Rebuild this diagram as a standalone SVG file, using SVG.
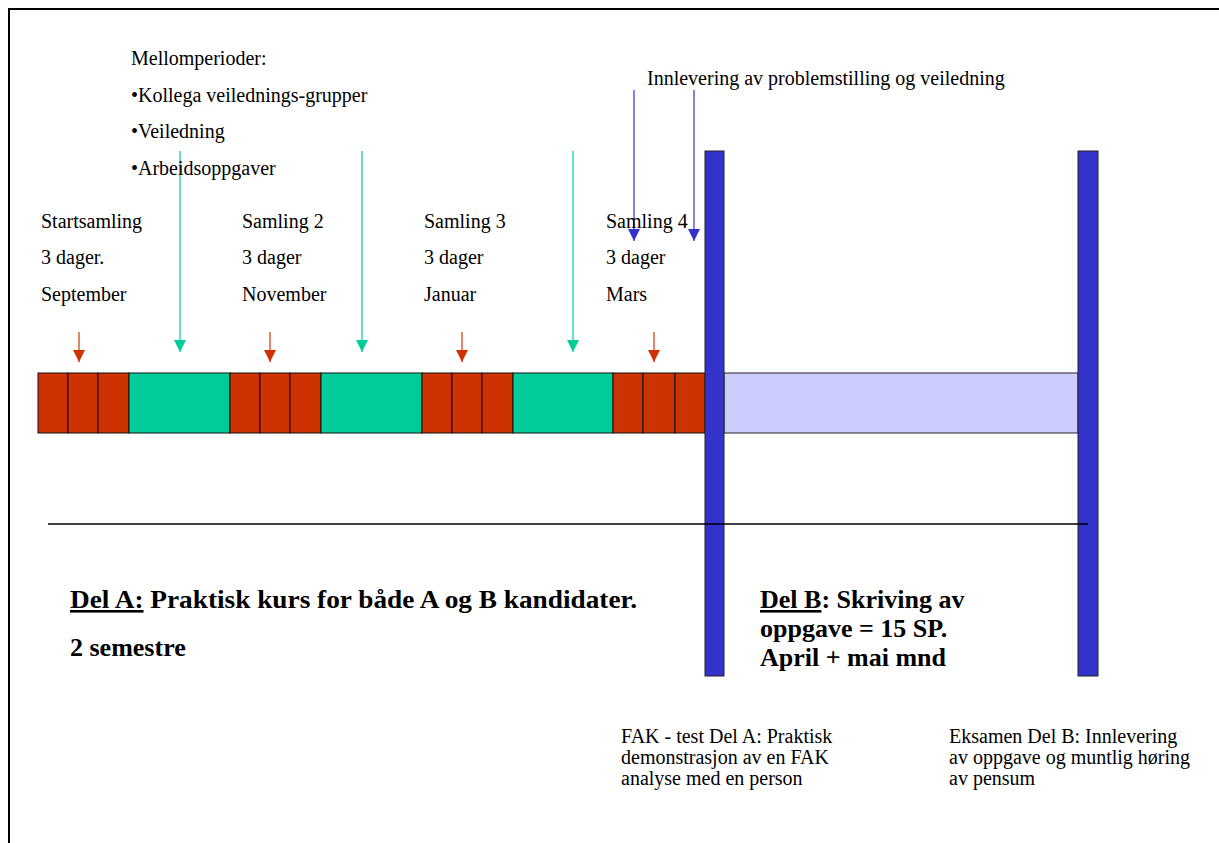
<svg xmlns="http://www.w3.org/2000/svg" width="1219" height="843" viewBox="0 0 1219 843">
  <style>
    text { font-family: "Liberation Serif", "Times New Roman", serif; fill: #000; }
    .t20 { font-size: 20px; }
    .lbl { font-size: 20px; }
    .big { font-size: 26px; font-weight: bold; }
    .day { fill: #CC3300; stroke: #111; stroke-width: 1; }
    .mid { fill: #00CC99; stroke: #111; stroke-width: 1; }
    .self { fill: #CCCCFF; stroke: #222; stroke-width: 1; }
    .post { fill: #3333CC; stroke: #222; stroke-width: 1; }
    .red { stroke: #CC3300; stroke-width: 1.2; fill: none; }
    .green { stroke: #00CC99; stroke-width: 1.2; fill: none; }
    .blue { stroke: #3333CC; stroke-width: 1.2; fill: none; }
  </style>
  <defs>
    <!-- downward-pointing heads, tip at the line end -->
    <marker id="hRed" viewBox="0 0 12 12" refX="6" refY="12" markerWidth="12" markerHeight="12" markerUnits="userSpaceOnUse">
      <path d="M0,0 L12,0 L6,12 Z" fill="#CC3300"/>
    </marker>
    <marker id="hGreen" viewBox="0 0 12 12" refX="6" refY="12" markerWidth="12" markerHeight="12" markerUnits="userSpaceOnUse">
      <path d="M0,0 L12,0 L6,12 Z" fill="#00CC99"/>
    </marker>
    <marker id="hBlue" viewBox="0 0 12 12" refX="6" refY="12" markerWidth="12" markerHeight="12" markerUnits="userSpaceOnUse">
      <path d="M0,0 L12,0 L6,12 Z" fill="#3333CC"/>
    </marker>
  </defs>

  <rect width="1219" height="843" fill="#fff"/>
  <!-- frame -->
  <path d="M9,843 V9 H1219" fill="none" stroke="#000" stroke-width="2"/>

  <!-- timeline strip -->
  <g id="strip">
    <rect class="day" x="38" y="373" width="30" height="60"/>
    <rect class="day" x="68" y="373" width="30" height="60"/>
    <rect class="day" x="98" y="373" width="31" height="60"/>
    <rect class="mid" x="129" y="373" width="101" height="60"/>
    <rect class="day" x="230" y="373" width="30" height="60"/>
    <rect class="day" x="260" y="373" width="30" height="60"/>
    <rect class="day" x="290" y="373" width="31" height="60"/>
    <rect class="mid" x="321" y="373" width="101" height="60"/>
    <rect class="day" x="422" y="373" width="30" height="60"/>
    <rect class="day" x="452" y="373" width="30" height="60"/>
    <rect class="day" x="482" y="373" width="31" height="60"/>
    <rect class="mid" x="513" y="373" width="100" height="60"/>
    <rect class="day" x="613" y="373" width="30" height="60"/>
    <rect class="day" x="643" y="373" width="32" height="60"/>
    <rect class="day" x="675" y="373" width="30" height="60"/>
    <rect class="self" x="724" y="373" width="354" height="60"/>
  </g>

  <g id="post-a"><rect class="post" x="705" y="151" width="19" height="525"/></g>
  <g id="post-b"><rect class="post" x="1078" y="151" width="20" height="525"/></g>

  <g id="divider"><line x1="48" y1="524" x2="1088" y2="524" stroke="#000" stroke-width="1.5"/></g>

  <!-- connectors -->
  <g id="connectors">
    <line class="red" x1="79" y1="332" x2="79" y2="362" marker-end="url(#hRed)"/>
    <line class="red" x1="270" y1="332" x2="270" y2="362" marker-end="url(#hRed)"/>
    <line class="red" x1="462" y1="332" x2="462" y2="362" marker-end="url(#hRed)"/>
    <line class="red" x1="654" y1="332" x2="654" y2="362" marker-end="url(#hRed)"/>
    <line class="green" x1="180" y1="151" x2="180" y2="352" marker-end="url(#hGreen)"/>
    <line class="green" x1="362" y1="151" x2="362" y2="352" marker-end="url(#hGreen)"/>
    <line class="green" x1="573" y1="151" x2="573" y2="352" marker-end="url(#hGreen)"/>
    <line class="blue" x1="634" y1="90" x2="634" y2="241" marker-end="url(#hBlue)"/>
    <line class="blue" x1="694" y1="90" x2="694" y2="241" marker-end="url(#hBlue)"/>
  </g>

  <g id="mellomperioder">
    <text class="t20" x="131" y="65">Mellomperioder:</text>
    <text class="t20" x="131" y="102">•Kollega veilednings-grupper</text>
    <text class="t20" x="131" y="138">•Veiledning</text>
    <text class="t20" x="131" y="175">•Arbeidsoppgaver</text>
  </g>

  <g id="innlevering">
    <text class="t20" x="647" y="85">Innlevering av problemstilling og veiledning</text>
  </g>

  <g id="samling-1">
    <text class="t20" x="41" y="228">Startsamling</text>
    <text class="t20" x="41" y="264">3 dager.</text>
    <text class="t20" x="41" y="301">September</text>
  </g>
  <g id="samling-2">
    <text class="t20" x="242" y="228">Samling 2</text>
    <text class="t20" x="242" y="264">3 dager</text>
    <text class="t20" x="242" y="301">November</text>
  </g>
  <g id="samling-3">
    <text class="t20" x="424" y="228">Samling 3</text>
    <text class="t20" x="424" y="264">3 dager</text>
    <text class="t20" x="424" y="301">Januar</text>
  </g>
  <g id="samling-4">
    <text class="t20" x="606" y="228">Samling 4</text>
    <text class="t20" x="606" y="264">3 dager</text>
    <text class="t20" x="606" y="301">Mars</text>
  </g>

  <g id="del-a">
    <text class="big" x="70" y="608" textLength="567" lengthAdjust="spacingAndGlyphs"><tspan text-decoration="underline">Del A:</tspan> Praktisk kurs for både A og B kandidater.</text>
    <text class="big" x="70" y="656">2 semestre</text>
  </g>

  <g id="del-b">
    <text class="big" x="760" y="608"><tspan text-decoration="underline">Del B</tspan>: Skriving av</text>
    <text class="big" x="760" y="637">oppgave = 15 SP.</text>
    <text class="big" x="760" y="666">April + mai mnd</text>
  </g>

  <g id="fak-test">
    <text class="lbl" x="621" y="743">FAK - test Del A: Praktisk</text>
    <text class="lbl" x="621" y="764">demonstrasjon av en FAK</text>
    <text class="lbl" x="621" y="785">analyse med en person</text>
  </g>

  <g id="eksamen">
    <text class="lbl" x="949" y="743">Eksamen Del B: Innlevering</text>
    <text class="lbl" x="949" y="764">av oppgave og muntlig høring</text>
    <text class="lbl" x="949" y="785">av pensum</text>
  </g>
</svg>
